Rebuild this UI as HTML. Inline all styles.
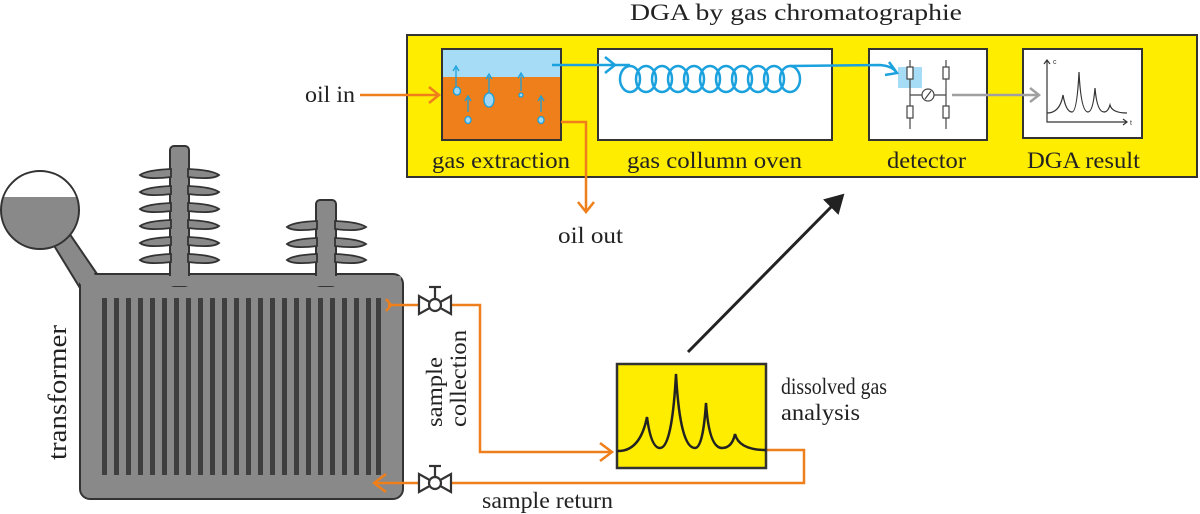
<!DOCTYPE html>
<html><head><meta charset="utf-8"><style>
html,body{margin:0;padding:0;background:#fff;}
svg{display:block;font-family:"Liberation Serif",serif;}
</style></head><body>
<svg width="1200" height="514" viewBox="0 0 1200 514" xmlns="http://www.w3.org/2000/svg">
<text x="630" y="20" font-size="23" fill="#222" textLength="332" lengthAdjust="spacingAndGlyphs">DGA by gas chromatographie</text>
<rect x="407" y="35" width="790" height="142" fill="#ffed00" stroke="#333" stroke-width="2"/>
<rect x="442" y="49" width="119" height="28" fill="#a6dcf6"/>
<rect x="442" y="77" width="119" height="63" fill="#ee7f1a"/>
<rect x="442" y="49" width="119" height="91" fill="none" stroke="#333" stroke-width="2"/>
<g stroke="#1ba1dd" stroke-width="1.3" fill="#9fd7f4">
<line x1="456" y1="88" x2="456" y2="68"/><line x1="489" y1="93" x2="489" y2="76"/><line x1="521" y1="91" x2="521" y2="75"/>
<line x1="468" y1="112" x2="468" y2="98"/><line x1="541" y1="112" x2="541" y2="98"/>
<ellipse cx="457" cy="91" rx="3.5" ry="4"/><ellipse cx="489" cy="100" rx="5" ry="7"/><circle cx="521" cy="95" r="2"/>
<ellipse cx="468" cy="120" rx="3" ry="3.5"/><ellipse cx="541" cy="120" rx="3" ry="3.5"/>
</g>
<g stroke="#1ba1dd" stroke-width="1.3" fill="none">
<path d="M453 71 L456 66 L459 71"/><path d="M486 79 L489 74 L492 79"/><path d="M518 78 L521 73 L524 78"/><path d="M465 101 L468 96 L471 101"/><path d="M538 101 L541 96 L544 101"/>
</g>
<rect x="598" y="49" width="234" height="91" fill="#fff" stroke="#333" stroke-width="2"/>
<rect x="869" y="49" width="118" height="91" fill="#fff" stroke="#333" stroke-width="2"/>
<rect x="898" y="67" width="24" height="21" fill="#a6dcf6"/>
<g stroke="#444" stroke-width="1.2" fill="#fff">
<line x1="910" y1="60" x2="910" y2="129"/><line x1="946" y1="60" x2="946" y2="129"/>
<line x1="910" y1="95" x2="946" y2="95"/>
<rect x="907" y="67" width="6" height="12"/><rect x="943" y="67" width="6" height="12"/>
<rect x="907" y="106" width="6" height="12"/><rect x="943" y="106" width="6" height="12"/>
<circle cx="928" cy="95" r="6"/><line x1="925" y1="99" x2="931" y2="91"/>
</g>
<rect x="1023" y="49" width="119" height="89" fill="#fff" stroke="#333" stroke-width="2"/>
<g stroke="#333" stroke-width="1.2" fill="none">
<path d="M1047 60 L1047 122 L1127 122"/><path d="M1044 64 L1047 60 L1050 64"/><path d="M1123 119 L1127 122 L1123 125"/>
<path d="M1047 113 Q1060 113 1063 95 Q1066 112 1072 112 Q1077 112 1079 72 Q1081 112 1088 112 Q1093 112 1095 88 Q1097 112 1104 112 Q1108 112 1110 105 Q1112 113 1127 113"/>
</g>
<text x="1053" y="64" font-size="7" fill="#333" font-family="Liberation Sans,sans-serif">c</text>
<text x="1130" y="125" font-size="7" fill="#333" font-family="Liberation Sans,sans-serif">t</text>
<line x1="952" y1="95" x2="1038" y2="95" stroke="#a0a0a0" stroke-width="2.5"/>
<path d="M1030 88 L1039 95 L1030 102" stroke="#a0a0a0" stroke-width="2.5" fill="none"/>
<g stroke="#1ba1dd" stroke-width="2.5" fill="none">
<line x1="552" y1="65" x2="630" y2="65"/>
<path d="M605 57 L615 65 L605 73"/>
<ellipse cx="630" cy="79" rx="10" ry="13"/><ellipse cx="646" cy="79" rx="10" ry="13"/><ellipse cx="662" cy="79" rx="10" ry="13"/><ellipse cx="678" cy="79" rx="10" ry="13"/><ellipse cx="694" cy="79" rx="10" ry="13"/><ellipse cx="710" cy="79" rx="10" ry="13"/><ellipse cx="726" cy="79" rx="10" ry="13"/><ellipse cx="742" cy="79" rx="10" ry="13"/><ellipse cx="758" cy="79" rx="10" ry="13"/><ellipse cx="774" cy="79" rx="10" ry="13"/><ellipse cx="790" cy="79" rx="10" ry="13"/>
<path d="M790 66 L880 65 Q892 66 896 72"/>
<path d="M889 62 L897 73 L885 75"/>
</g>
<text x="305" y="102" font-size="23" fill="#222" textLength="50" lengthAdjust="spacingAndGlyphs">oil in</text>
<g stroke="#ee7f1a" stroke-width="2.5" fill="none">
<line x1="360" y1="95" x2="439" y2="95"/><path d="M429 87 L439 95 L429 103"/>
<path d="M561 122 L586 122 L586 212"/><path d="M578 202 L586 212 L594 202"/>
</g>
<text x="558" y="243" font-size="23" fill="#222" textLength="65" lengthAdjust="spacingAndGlyphs">oil out</text>
<g font-size="23" fill="#222">
<text x="432" y="168" textLength="138" lengthAdjust="spacingAndGlyphs">gas extraction</text>
<text x="627" y="168" textLength="175" lengthAdjust="spacingAndGlyphs">gas collumn oven</text>
<text x="887" y="168" textLength="79" lengthAdjust="spacingAndGlyphs">detector</text>
<text x="1027" y="168" textLength="113" lengthAdjust="spacingAndGlyphs">DGA result</text>
</g>
<line x1="688" y1="352" x2="836" y2="202" stroke="#222" stroke-width="3"/>
<path d="M825 200 L843 195 L838 213 Z" fill="#222" stroke="#222" stroke-width="2"/>
<g fill="#898989" stroke="#333" stroke-width="2">
<path d="M97 274 L67 230 L50 239 L80 288 Z"/>
<rect x="80" y="274" width="323" height="225" rx="10"/>
<rect x="170" y="146" width="19" height="140" rx="4"/>
<rect x="316" y="200" width="20" height="86" rx="4"/>
</g>
<g fill="#898989" stroke="none"><rect x="82" y="276" width="319" height="10"/><rect x="171" y="270" width="17" height="10"/><rect x="317" y="270" width="18" height="10"/><path d="M95 275 L66 232 L52 240 L81 285 Z"/></g>
<g fill="#898989" stroke="#333" stroke-width="1.8">
<path d="M171 169 Q147 170 140 175 Q146 180 171 177 Z"/><path d="M171 186 Q147 187 140 192 Q146 197 171 194 Z"/><path d="M171 203 Q147 204 140 209 Q146 214 171 211 Z"/><path d="M171 220 Q147 221 140 226 Q146 231 171 228 Z"/><path d="M171 237 Q147 238 140 243 Q146 248 171 245 Z"/><path d="M171 254 Q147 255 140 260 Q146 265 171 262 Z"/>
<path d="M188 169 Q212 170 219 175 Q213 180 188 177 Z"/><path d="M188 186 Q212 187 219 192 Q213 197 188 194 Z"/><path d="M188 203 Q212 204 219 209 Q213 214 188 211 Z"/><path d="M188 220 Q212 221 219 226 Q213 231 188 228 Z"/><path d="M188 237 Q212 238 219 243 Q213 248 188 245 Z"/><path d="M188 254 Q212 255 219 260 Q213 265 188 262 Z"/>
<path d="M317 221 Q293 222 287 227 Q293 232 317 229 Z"/><path d="M317 238 Q293 239 287 244 Q293 249 317 246 Z"/><path d="M317 254 Q293 255 287 260 Q293 265 317 262 Z"/>
<path d="M335 221 Q359 222 366 227 Q359 232 335 229 Z"/><path d="M335 238 Q359 239 366 244 Q359 249 335 246 Z"/><path d="M335 254 Q359 255 366 260 Q359 265 335 262 Z"/>
</g>
<clipPath id="cc"><circle cx="40" cy="210" r="39"/></clipPath>
<circle cx="40" cy="210" r="39" fill="#fff"/>
<rect x="0" y="197" width="80" height="60" fill="#898989" clip-path="url(#cc)"/>
<circle cx="40" cy="210" r="39" fill="none" stroke="#333" stroke-width="2"/>
<g fill="#3f3f3f">
<rect x="102" y="298" width="5" height="177"/><rect x="114" y="298" width="5" height="177"/><rect x="126" y="298" width="5" height="177"/><rect x="138" y="298" width="5" height="177"/><rect x="150" y="298" width="5" height="177"/><rect x="162" y="298" width="5" height="177"/><rect x="174" y="298" width="5" height="177"/><rect x="186" y="298" width="5" height="177"/><rect x="198" y="298" width="5" height="177"/><rect x="210" y="298" width="5" height="177"/><rect x="222" y="298" width="5" height="177"/><rect x="234" y="298" width="5" height="177"/><rect x="246" y="298" width="5" height="177"/><rect x="258" y="298" width="5" height="177"/><rect x="270" y="298" width="5" height="177"/><rect x="282" y="298" width="5" height="177"/><rect x="294" y="298" width="5" height="177"/><rect x="306" y="298" width="5" height="177"/><rect x="318" y="298" width="5" height="177"/><rect x="330" y="298" width="5" height="177"/><rect x="342" y="298" width="5" height="177"/><rect x="354" y="298" width="5" height="177"/><rect x="366" y="298" width="5" height="177"/><rect x="376" y="298" width="5" height="177"/>
</g>
<text transform="translate(66,460) rotate(-90)" font-size="26" fill="#222" textLength="135" lengthAdjust="spacingAndGlyphs">transformer</text>
<g stroke="#ee7f1a" stroke-width="2.5" fill="none">
<path d="M388 305 L480 305 L480 452 L612 452"/>
<path d="M386 299 L391 305 L386 311"/>
<path d="M600 443 L612 452 L600 461"/>
<path d="M767 450 L804 450 L804 483 L374 483"/>
<path d="M386 474 L374 483 L386 492"/>
</g>
<g stroke="#333" stroke-width="2.2" fill="#fff">
<path d="M419 296 L419 314 L451 296 L451 314 Z"/><circle cx="435" cy="305" r="6"/><line x1="435" y1="299" x2="435" y2="287"/><line x1="429" y1="287" x2="441" y2="287"/>
<path d="M419 474 L419 492 L451 474 L451 492 Z"/><circle cx="435" cy="483" r="6"/><line x1="435" y1="477" x2="435" y2="466"/><line x1="429" y1="466" x2="441" y2="466"/>
</g>
<text transform="translate(442,427) rotate(-90)" font-size="23" fill="#222" textLength="70" lengthAdjust="spacingAndGlyphs">sample</text>
<text transform="translate(466,427) rotate(-90)" font-size="23" fill="#222" textLength="97" lengthAdjust="spacingAndGlyphs">collection</text>
<text x="482" y="508" font-size="23" fill="#222" textLength="131" lengthAdjust="spacingAndGlyphs">sample return</text>
<rect x="617" y="364" width="149" height="104" fill="#ffed00" stroke="#333" stroke-width="2.5"/>
<path d="M617 451 Q640 452 647 417 Q651 448 660 448 Q672 448 676 374 Q680 448 695 448 Q703 448 706 403 Q709 448 722 448 Q732 448 735 434 Q739 450 766 450" stroke="#222" stroke-width="2.5" fill="none"/>
<text x="781" y="394" font-size="23" fill="#222" textLength="106" lengthAdjust="spacingAndGlyphs">dissolved gas</text>
<text x="781" y="420" font-size="23" fill="#222" textLength="79" lengthAdjust="spacingAndGlyphs">analysis</text>
</svg>
</body></html>
